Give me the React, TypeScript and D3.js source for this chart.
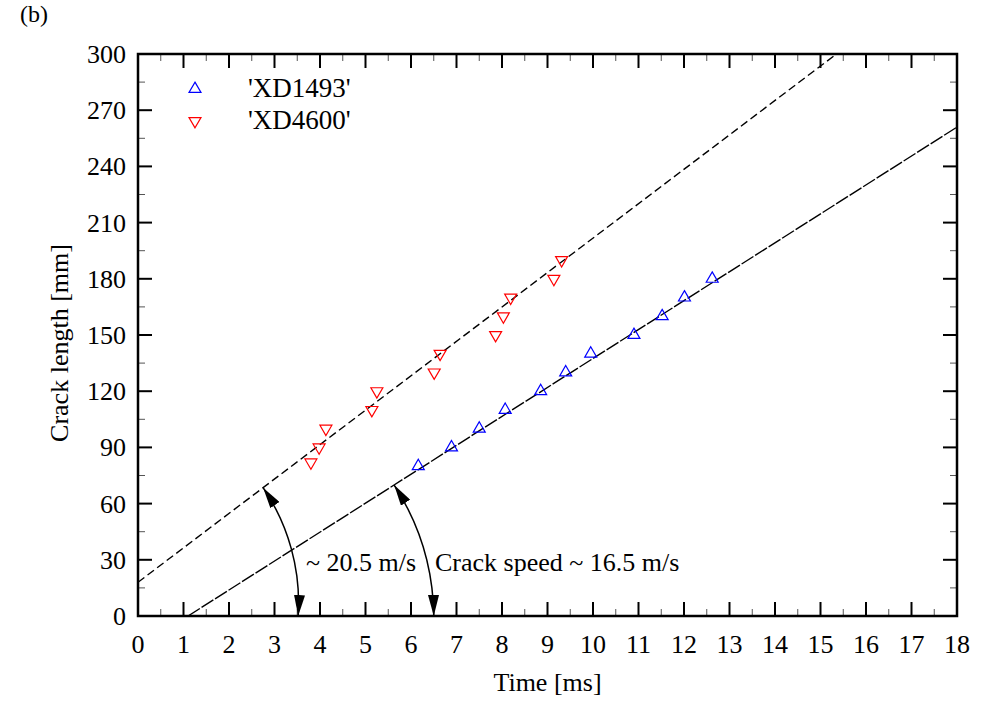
import React from "react";
import * as d3 from "d3";

const W = 982;
const H = 702;
const M = { left: 138, right: 957, top: 54, bottom: 616 };

const xTicks = d3.range(0, 19, 1);
const xMinor = d3.range(0.5, 18, 1);
const yTicks = d3.range(0, 301, 30);
const yMinor = d3.range(15, 300, 30);

const seriesNames = ["'XD1493'", "'XD4600'"];
const seriesColors = ["#0000ff", "#ff0000"];

const xd1493Time = [6.16, 6.89, 7.5, 8.07, 8.85, 9.4, 9.95, 10.9, 11.52, 12.01, 12.62];
const xd1493Len = [80, 90, 100, 110, 120, 130, 140, 150, 160, 170, 180];

const xd4600Time = [3.8, 3.98, 4.13, 5.14, 5.25, 6.51, 6.64, 7.86, 8.03, 8.19, 9.14, 9.31];
const xd4600Len = [82, 90, 100, 110, 120, 130, 140, 150, 160, 170, 180, 190];

// fitted lines: [t, length] endpoints
const fit4600 = [[0, 18], [15.35, 300]];
const fit1493 = [[1.1, 0], [18, 261]];

// annotation arcs: start point on line, end point on time axis, centre on line's axis crossing
const arcStart = [[2.75, 68.5], [5.63, 69.9]];
const arcEnd = [[3.52, 0], [6.5, 0]];
const arcCentreT = [-0.98, 1.1];
const arcLabels = ["~ 20.5 m/s", "Crack speed ~ 16.5 m/s"];

const FONT = "'Liberation Serif', 'Times New Roman', serif";

export default function App() {
  const x = d3.scaleLinear().domain([0, 18]).range([M.left, M.right]);
  const y = d3.scaleLinear().domain([0, 300]).range([M.bottom, M.top]);
  const line = d3.line<number[]>().x((d) => x(d[0])).y((d) => y(d[1]));
  const tri = d3.symbol().type(d3.symbolTriangle).size(62)();

  const majorLen = 14;
  const minorLen = 7;

  const arcPath = (i: number) => {
    const cx = x(arcCentreT[i]);
    const ex = x(arcEnd[i][0]);
    const r = ex - cx;
    const sx = x(arcStart[i][0]);
    const sy = y(arcStart[i][1]);
    return `M${sx},${sy} A${r},${r} 0 0 1 ${ex},${y(arcEnd[i][1])}`;
  };

  return (
    <svg
      width={W}
      height={H}
      style={{ position: "absolute", left: 0, top: 0, background: "#fff" }}
      fontFamily={FONT}
    >
      <defs>
        <clipPath id="plotClip">
          <rect x={M.left} y={M.top} width={M.right - M.left} height={M.bottom - M.top} />
        </clipPath>
        <marker
          id="arrow"
          markerUnits="userSpaceOnUse"
          markerWidth={21}
          markerHeight={11}
          refX={21}
          refY={5.5}
          orient="auto-start-reverse"
        >
          <path d="M0,0 L21,5.5 L0,11 Z" fill="#000" />
        </marker>
      </defs>

      <text x={20} y={22} fontSize={24} fill="#000">(b)</text>

      {/* minor ticks */}
      {xMinor.map((t) => (
        <g key={"xm" + t} stroke="#555" strokeWidth={1}>
          <line x1={x(t)} x2={x(t)} y1={M.bottom} y2={M.bottom - minorLen} />
          <line x1={x(t)} x2={x(t)} y1={M.top} y2={M.top + minorLen} />
        </g>
      ))}
      {yMinor.map((v) => (
        <g key={"ym" + v} stroke="#555" strokeWidth={1}>
          <line x1={M.left} x2={M.left + minorLen} y1={y(v)} y2={y(v)} />
          <line x1={M.right} x2={M.right - minorLen} y1={y(v)} y2={y(v)} />
        </g>
      ))}
      {/* major ticks */}
      {xTicks.map((t) => (
        <g key={"xt" + t} stroke="#000" strokeWidth={2}>
          <line x1={x(t)} x2={x(t)} y1={M.bottom} y2={M.bottom - majorLen} />
          <line x1={x(t)} x2={x(t)} y1={M.top} y2={M.top + majorLen} />
        </g>
      ))}
      {yTicks.map((v) => (
        <g key={"yt" + v} stroke="#000" strokeWidth={2}>
          <line x1={M.left} x2={M.left + majorLen} y1={y(v)} y2={y(v)} />
          <line x1={M.right} x2={M.right - majorLen} y1={y(v)} y2={y(v)} />
        </g>
      ))}

      {/* tick labels */}
      {xTicks.map((t) => (
        <text key={"xl" + t} x={x(t)} y={653} fontSize={26} textAnchor="middle" fill="#000">
          {t}
        </text>
      ))}
      {yTicks.map((v) => (
        <text key={"yl" + v} x={126} y={y(v) + 9} fontSize={26} textAnchor="end" fill="#000">
          {v}
        </text>
      ))}

      {/* axis titles */}
      <text x={(M.left + M.right) / 2} y={691} fontSize={26} textAnchor="middle" fill="#000">
        Time [ms]
      </text>
      <text
        transform={`translate(68,${343}) rotate(-90)`}
        fontSize={26}
        textAnchor="middle"
        fill="#000"
      >
        Crack length [mm]
      </text>

      {/* fit lines */}
      <g clipPath="url(#plotClip)" fill="none" stroke="#000" strokeWidth={1.4}>
        <path d={line(fit4600) || ""} strokeDasharray="8,4" />
        <path d={line(fit1493) || ""} strokeDasharray="14,2" />
      </g>

      {/* data points */}
      {xd1493Time.map((t, i) => (
        <path
          key={"b" + i}
          d={tri || ""}
          transform={`translate(${x(t)},${y(xd1493Len[i])})`}
          fill="none"
          stroke={seriesColors[0]}
          strokeWidth={1.2}
        />
      ))}
      {xd4600Time.map((t, i) => (
        <path
          key={"r" + i}
          d={tri || ""}
          transform={`translate(${x(t)},${y(xd4600Len[i])}) rotate(180)`}
          fill="none"
          stroke={seriesColors[1]}
          strokeWidth={1.2}
        />
      ))}

      {/* arcs */}
      {[0, 1].map((i) => (
        <path
          key={"arc" + i}
          d={arcPath(i)}
          fill="none"
          stroke="#000"
          strokeWidth={1.5}
          markerStart="url(#arrow)"
          markerEnd="url(#arrow)"
        />
      ))}
      <text x={306} y={571} fontSize={26} fill="#000">{arcLabels[0]}</text>
      <text x={435} y={571} fontSize={26} fill="#000">{arcLabels[1]}</text>

      {/* legend */}
      <path d={tri || ""} transform="translate(195,89)" fill="none" stroke={seriesColors[0]} strokeWidth={1.2} />
      <text x={248} y={97} fontSize={27} fill="#000">{seriesNames[0]}</text>
      <path d={tri || ""} transform="translate(195,121) rotate(180)" fill="none" stroke={seriesColors[1]} strokeWidth={1.2} />
      <text x={248} y={129} fontSize={27} fill="#000">{seriesNames[1]}</text>

      {/* frame */}
      <rect
        x={M.left}
        y={M.top}
        width={M.right - M.left}
        height={M.bottom - M.top}
        fill="none"
        stroke="#000"
        strokeWidth={2.5}
      />
    </svg>
  );
}
